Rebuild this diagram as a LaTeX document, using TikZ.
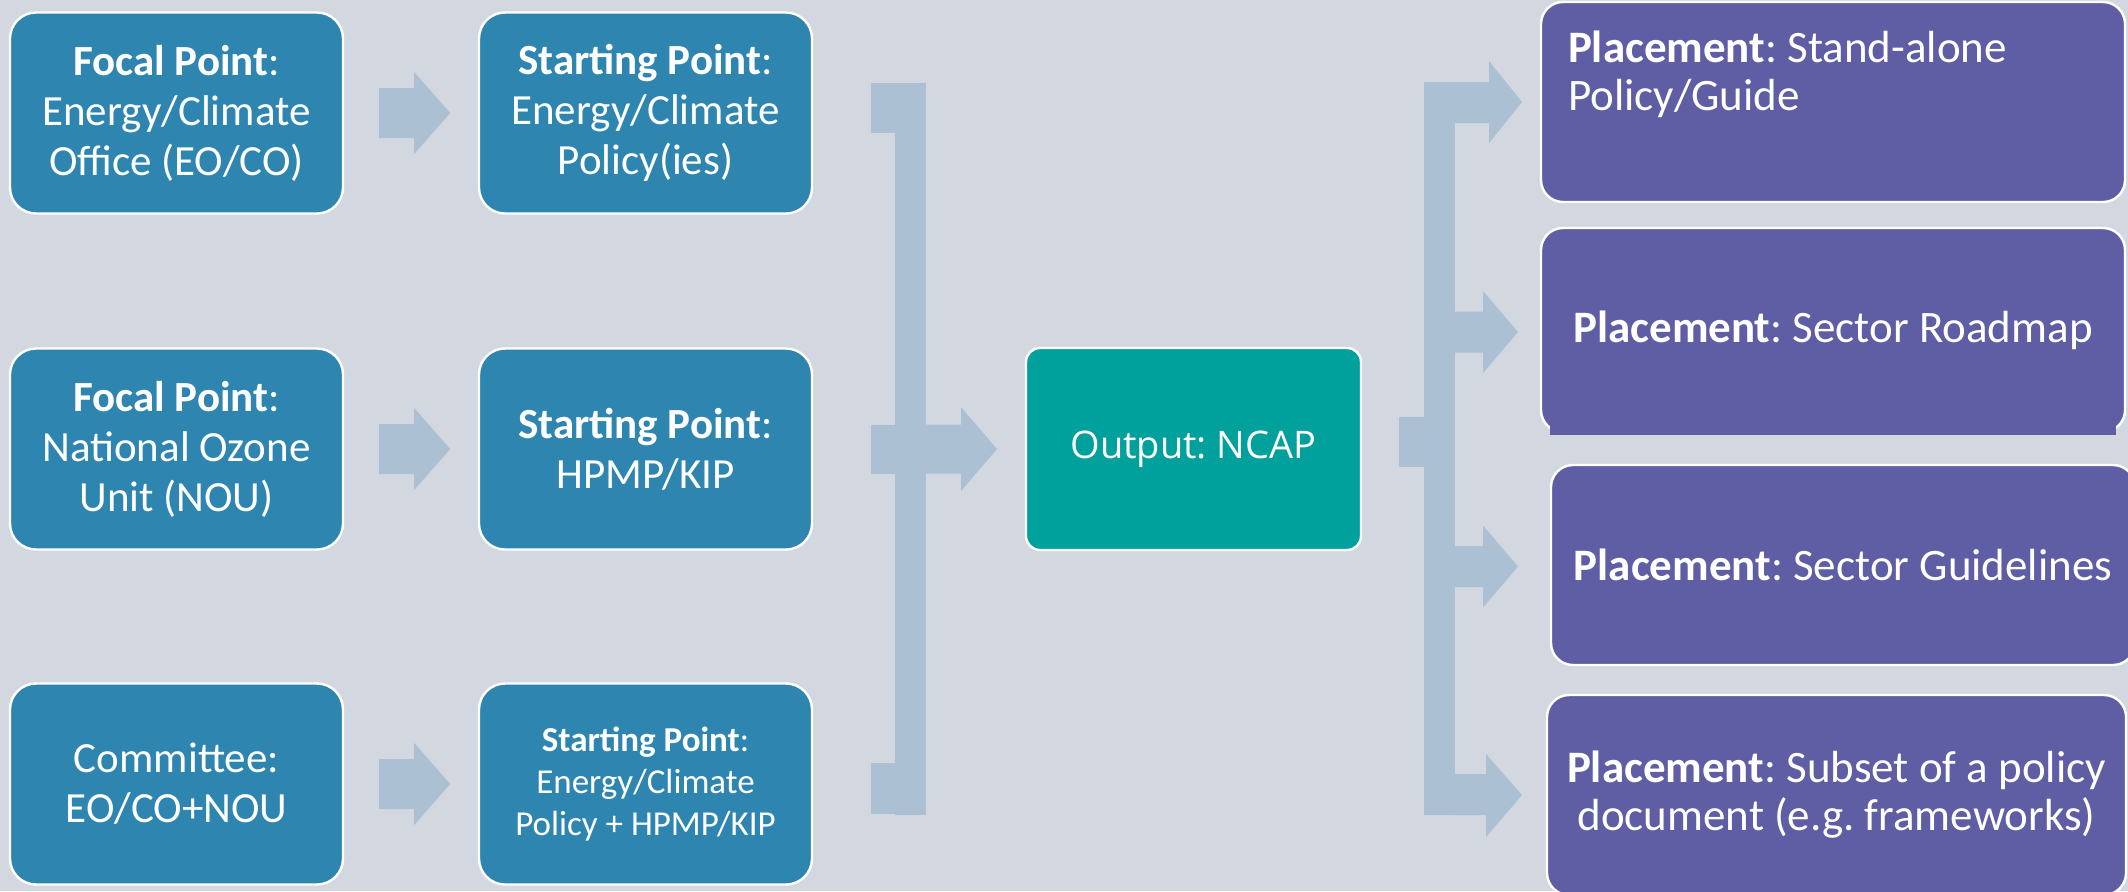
\documentclass[tikz,border=0pt]{standalone}
\usepackage{fontspec}
\setmainfont{Carlito}
\newfontfamily\outfont{Open Sans}
\usetikzlibrary{calc}
\frenchspacing

\definecolor{bgcol}{HTML}{D3D7DF}
\definecolor{boxblue}{HTML}{2E85B0}
\definecolor{boxteal}{HTML}{00A19C}
\definecolor{boxpurple}{HTML}{5F5DA3}
\definecolor{flowcol}{HTML}{ABC1D3}

\tikzset{
  card/.style={draw=white, line width=1.2pt, text=white, inner sep=0pt},
  srcbox/.style={card, fill=boxblue, rounded corners=13pt, align=center,
    minimum width=166.5pt, minimum height=100.5pt,
    font=\fontsize{21.5}{25}\selectfont},
  smalltext/.style={font=\fontsize{17.5}{21}\selectfont},
  outbox/.style={card, fill=boxteal, rounded corners=7pt, align=center,
    minimum width=167.5pt, minimum height=101pt,
    font=\outfont\fontsize{19}{23}\selectfont},
  placebox/.style={card, fill=boxpurple, rounded corners=11pt,
    minimum width=292pt, minimum height=100pt,
    font=\fontsize{22.5}{24}\selectfont},
  flow/.style={fill=flowcol},
}

% block arrow right of a node: shaft and head measured from its east side
\newcommand\rowarrow[1]{%
  \fill[flow] ($(#1.east)+(35,-25)$) -- ($(#1.east)+(70,-25)$)
    -- ($(#1.east)+(70,-41)$) -- ($(#1.east)+(106,0)$)
    -- ($(#1.east)+(70,41)$) -- ($(#1.east)+(70,25)$)
    -- ($(#1.east)+(35,25)$) -- cycle;}

% branch of the right-hand fork: shaft from the bar, head ending at x=#3
\newcommand\branch[3]{%
  \fill[flow] (1455,#1-20.5) -- (#2,#1-20.5) -- (#2,#1-41) -- (#3,#1)
    -- (#2,#1+41) -- (#2,#1+20.5) -- (1455,#1+20.5) -- cycle;}

\begin{document}
\begin{tikzpicture}[x=0.5pt,y=-0.5pt]
\useasboundingbox (0,0) rectangle (2128,891);
\fill[bgcol] (0,0) rectangle (2128,891);

% sources and starting points
\node[srcbox] (fp1) at (176.5,113) {{\bfseries Focal Point}:\\Energy/Climate\\Office (EO/CO)};
\node[srcbox] (sp1) at (645.5,113) {{\bfseries Starting Point}:\\Energy/Climate\\Policy(ies)};
\node[srcbox] (fp2) at (176.5,449) {{\bfseries Focal Point}:\\National Ozone\\Unit (NOU)};
\node[srcbox] (sp2) at (645.5,449) {{\bfseries Starting Point}:\\HPMP/KIP};
\node[srcbox] (cm3) at (176.5,784) {Committee:\\EO/CO+NOU};
\node[srcbox,smalltext] (sp3) at (645.5,784) {{\bfseries Starting Point}:\\Energy/Climate\\Policy + HPMP/KIP};

\rowarrow{fp1}
\rowarrow{fp2}
\rowarrow{cm3}

% merging bracket into the output
\fill[flow] (895,83) rectangle (926,815);
\fill[flow] (871,83) rectangle (895,133);
\fill[flow] (871,425) rectangle (895,474);
\fill[flow] (871,763) rectangle (895,814);
\fill[flow] (926,424.5) -- (961,424.5) -- (961,407) -- (997,449) -- (961,491)
  -- (961,473.5) -- (926,473.5) -- cycle;

% output
\node[outbox] (out) at (1193.5,449) {Output: NCAP};

% splitting fork towards the placements
\fill[flow] (1399,417) rectangle (1424,467);
\fill[flow] (1424,82) rectangle (1455,815);
\fill[flow] (1455,82) -- (1489,82) -- (1489,61) -- (1522,102) -- (1489,143)
  -- (1489,123) -- (1455,123) -- cycle;
\branch{332}{1483}{1518}
\branch{566.5}{1483}{1518}
\fill[flow] (1455,774) -- (1486,774) -- (1486,754) -- (1522,795) -- (1486,837)
  -- (1486,815) -- (1455,815) -- cycle;

% placements
\node[placebox] (pl1) at (1833,102)
  {\parbox[c][100pt][t]{265pt}{\raggedright\rule{0pt}{30pt}{\bfseries Placement}: Stand-alone\\Policy/Guide}};
\node[placebox, minimum height=102pt] (pl2) at (1833,330) {{\bfseries Placement}: Sector Roadmap};
\fill[boxpurple] ($(pl2.south west)+(10,-10)$) rectangle ($(pl2.south east)+(-10,1.6)$);
\node[placebox] (pl3) at (1843,565) {{\bfseries Placement}: Sector Guidelines};
\node[placebox, align=center, minimum width=289.5pt] (pl4) at (1836.5,795)
  {{\bfseries Placement}: Subset of a policy\\document (e.g. frameworks)};
\end{tikzpicture}
\end{document}
